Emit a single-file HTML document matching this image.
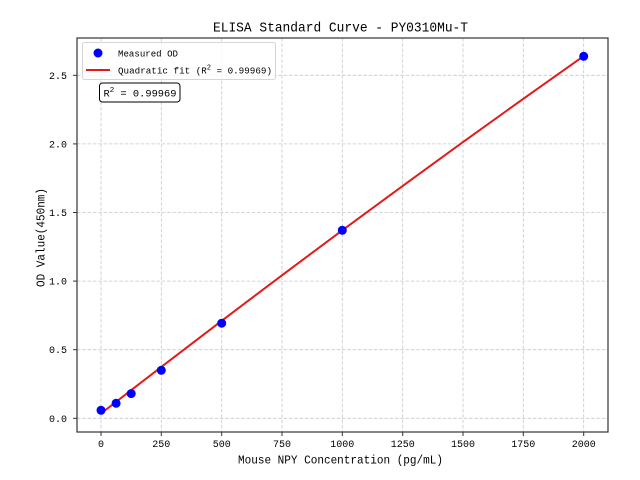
<!DOCTYPE html>
<html>
<head>
<meta charset="utf-8">
<style>
html,body{margin:0;padding:0;background:#fff;}
svg{display:block;}
text{font-family:"Liberation Mono","Noto Sans CJK SC",monospace;fill:#000;}
</style>
</head>
<body>
<svg width="640" height="480" viewBox="0 0 640 480" xmlns="http://www.w3.org/2000/svg">
<rect x="0" y="0" width="640" height="480" fill="#fff"/>
<!-- grid -->
<g stroke="#c8c8c8" stroke-width="0.8" stroke-dasharray="3.5,1.8" fill="none">
  <line x1="101" y1="38" x2="101" y2="432"/>
  <line x1="161.3" y1="38" x2="161.3" y2="432"/>
  <line x1="221.7" y1="38" x2="221.7" y2="432"/>
  <line x1="282" y1="38" x2="282" y2="432"/>
  <line x1="342.3" y1="38" x2="342.3" y2="432"/>
  <line x1="402.7" y1="38" x2="402.7" y2="432"/>
  <line x1="463" y1="38" x2="463" y2="432"/>
  <line x1="523.3" y1="38" x2="523.3" y2="432"/>
  <line x1="583.7" y1="38" x2="583.7" y2="432"/>
  <line x1="77" y1="418.3" x2="608" y2="418.3"/>
  <line x1="77" y1="349.7" x2="608" y2="349.7"/>
  <line x1="77" y1="281.1" x2="608" y2="281.1"/>
  <line x1="77" y1="212.5" x2="608" y2="212.5"/>
  <line x1="77" y1="143.9" x2="608" y2="143.9"/>
  <line x1="77" y1="75.3" x2="608" y2="75.3"/>
</g>
<!-- fit line -->
<polyline fill="none" stroke="#e41a1a" stroke-width="2" stroke-linejoin="round"
  points="101,413.5 161.3,366.9 221.7,320.8 282,275.3 342.3,230.3 402.7,185.9 463,142.1 523.3,98.8 583.7,56.1"/>
<!-- points -->
<g fill="#0000ff">
  <circle cx="101" cy="410.3" r="4.5"/>
  <circle cx="116.1" cy="403.3" r="4.5"/>
  <circle cx="131.2" cy="393.6" r="4.5"/>
  <circle cx="161.3" cy="370.3" r="4.5"/>
  <circle cx="221.7" cy="323.2" r="4.5"/>
  <circle cx="342.3" cy="230.3" r="4.5"/>
  <circle cx="583.7" cy="56.3" r="4.5"/>
</g>
<!-- spines -->
<rect x="77" y="38" width="531" height="394" fill="none" stroke="#333" stroke-width="1.2"/>
<!-- ticks -->
<g stroke="#333" stroke-width="1">
  <line x1="101" y1="432" x2="101" y2="436"/>
  <line x1="161.3" y1="432" x2="161.3" y2="436"/>
  <line x1="221.7" y1="432" x2="221.7" y2="436"/>
  <line x1="282" y1="432" x2="282" y2="436"/>
  <line x1="342.3" y1="432" x2="342.3" y2="436"/>
  <line x1="402.7" y1="432" x2="402.7" y2="436"/>
  <line x1="463" y1="432" x2="463" y2="436"/>
  <line x1="523.3" y1="432" x2="523.3" y2="436"/>
  <line x1="583.7" y1="432" x2="583.7" y2="436"/>
  <line x1="73" y1="418.3" x2="77" y2="418.3"/>
  <line x1="73" y1="349.7" x2="77" y2="349.7"/>
  <line x1="73" y1="281.1" x2="77" y2="281.1"/>
  <line x1="73" y1="212.5" x2="77" y2="212.5"/>
  <line x1="73" y1="143.9" x2="77" y2="143.9"/>
  <line x1="73" y1="75.3" x2="77" y2="75.3"/>
</g>
<!-- x tick labels -->
<g font-size="10" text-anchor="middle">
  <text x="101" y="447">0</text>
  <text x="161.3" y="447">250</text>
  <text x="221.7" y="447">500</text>
  <text x="282" y="447">750</text>
  <text x="342.3" y="447">1000</text>
  <text x="402.7" y="447">1250</text>
  <text x="463" y="447">1500</text>
  <text x="523.3" y="447">1750</text>
  <text x="583.7" y="447">2000</text>
</g>
<!-- y tick labels -->
<g font-size="10" text-anchor="end">
  <text x="67" y="421.8">0.0</text>
  <text x="67" y="353.2">0.5</text>
  <text x="67" y="284.6">1.0</text>
  <text x="67" y="216">1.5</text>
  <text x="67" y="147.4">2.0</text>
  <text x="67" y="78.8">2.5</text>
</g>
<!-- title -->
<text x="213" y="31.5" font-size="14" textLength="255" lengthAdjust="spacingAndGlyphs">ELISA Standard Curve - PY0310Mu-T</text>
<!-- x label -->
<text x="238" y="463.5" font-size="12" textLength="205" lengthAdjust="spacingAndGlyphs">Mouse NPY Concentration (pg/mL)</text>
<!-- y label -->
<text transform="translate(44.5,287) rotate(-90)" font-size="12" textLength="99" lengthAdjust="spacingAndGlyphs">OD Value(450nm)</text>
<!-- legend -->
<rect x="82.5" y="42.5" width="193" height="37" rx="2" ry="2" fill="#fff" fill-opacity="0.8" stroke="#d5d5d5" stroke-width="1"/>
<circle cx="98" cy="53" r="4.5" fill="#0000ff"/>
<line x1="86" y1="70" x2="110" y2="70" stroke="#e41a1a" stroke-width="2"/>
<text x="118" y="56.5" font-size="9.5" textLength="60" lengthAdjust="spacingAndGlyphs">Measured OD</text>
<text x="118" y="73.5" font-size="9.5" textLength="154" lengthAdjust="spacingAndGlyphs">Quadratic fit (R<tspan font-size="7" dy="-4">2</tspan><tspan dy="4"> = 0.99969)</tspan></text>
<!-- R2 box -->
<rect x="99.5" y="83" width="80.5" height="19" rx="3" ry="3" fill="#fff" stroke="#000" stroke-width="1"/>
<text x="103.5" y="96.5" font-size="10.5" textLength="73" lengthAdjust="spacingAndGlyphs">R<tspan font-size="7.5" dy="-4.5">2</tspan><tspan dy="4.5"> = 0.99969</tspan></text>
</svg>
</body>
</html>
